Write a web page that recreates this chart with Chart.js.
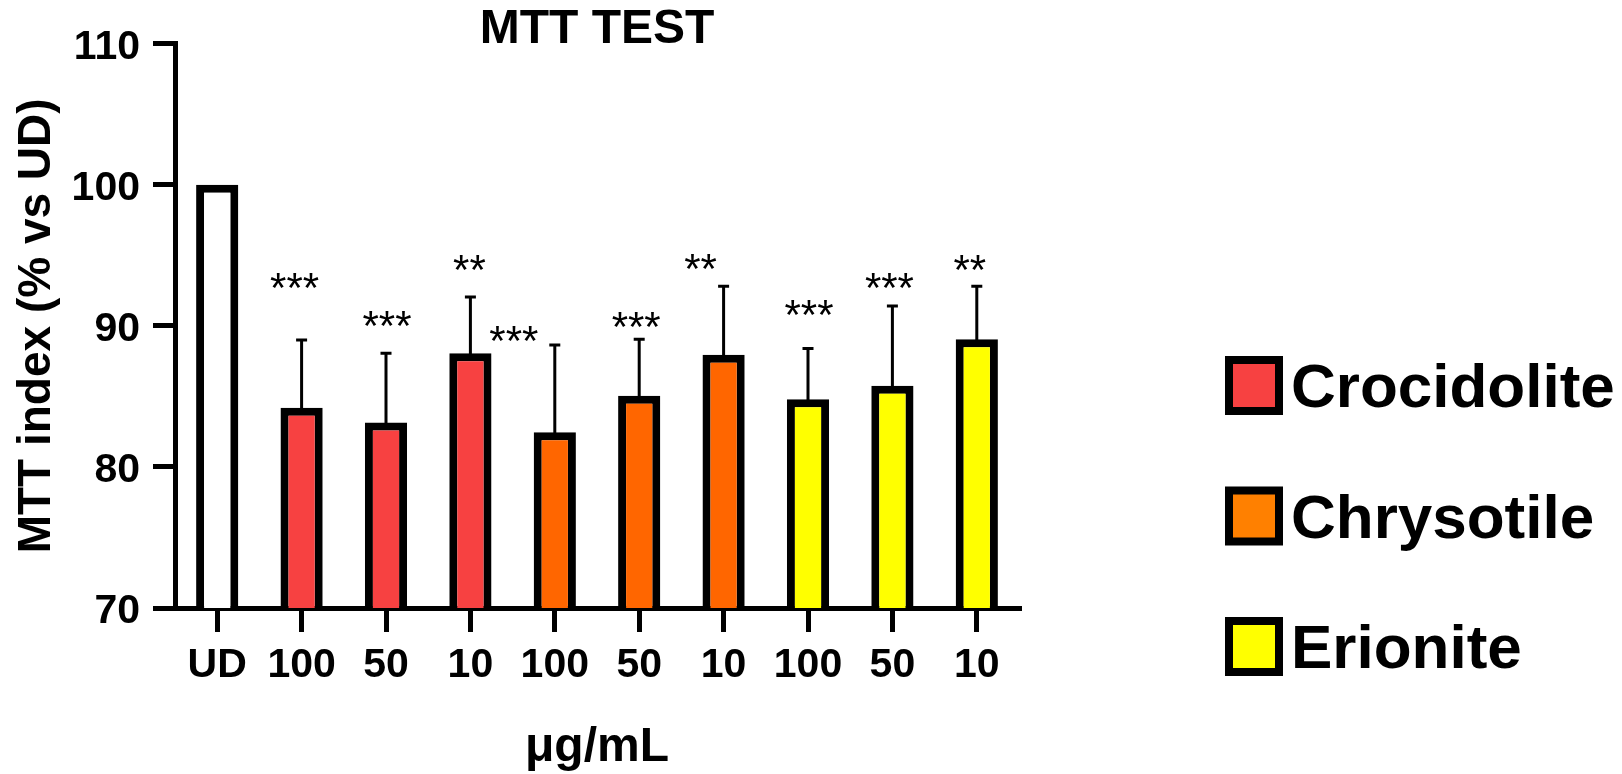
<!DOCTYPE html>
<html>
<head>
<meta charset="utf-8">
<title>MTT TEST</title>
<script src="https://cdn.jsdelivr.net/npm/chart.js@4.4.1/dist/chart.umd.min.js"></script>
<style>
  html, body { margin: 0; padding: 0; background: #fff; }
  #wrap { width: 1622px; height: 774px; }
</style>
</head>
<body>
<div id="wrap"><canvas id="ShowChart"></canvas></div>
<script>
// data
var Dose_Labels = ["UD", "100", "50", "10", "100", "50", "10", "100", "50", "10"]
var Bar_Group = ["UD", "Crocidolite", "Crocidolite", "Crocidolite", "Chrysotile", "Chrysotile", "Chrysotile", "Erionite", "Erionite", "Erionite"]
var MTT_Mean = [100, 84.2, 83.15, 88.05, 82.45, 85.05, 87.95, 84.8, 85.75, 89.05]
var MTT_SD = [null, 4.8, 4.9, 4.0, 6.2, 4.0, 4.85, 3.6, 5.65, 3.75]
var Sig_Stars = ["", "***", "***", "**", "***", "***", "**", "***", "***", "**"]
var Sig_Level = [null, 93.4, 90.7, 94.7, 89.6, 90.65, 94.75, 91.45, 93.4, 94.65]
var Fiber_Names = ["Crocidolite", "Chrysotile", "Erionite"]
var Y_Ticks = [70, 80, 90, 100, 110]

var Bar_Colors = {
  "UD": "#FFFFFF",
  "Crocidolite": "#F74141",
  "Chrysotile": "#FF6600",
  "Erionite": "#FFFF00"
}
var Legend_Colors = {
  "Crocidolite": "#F74141",
  "Chrysotile": "#FF8000",
  "Erionite": "#FFFF00"
}

var FONT = "'Liberation Sans', Arial, Helvetica, sans-serif"
Chart.defaults.font.family = FONT
Chart.defaults.color = "#000"

// error bars (upper only) and the significance stars
var ErrorBars = {
  id: "errorBars",
  afterDatasetsDraw: function(chart, args, opts){
    var ctx = chart.ctx, y = chart.scales.y
    var bars = chart.getDatasetMeta(0).data
    ctx.save()
    ctx.strokeStyle = "#000"
    ctx.lineWidth = opts.lineWidth
    ctx.lineCap = "butt"
    for (var i = 0; i < bars.length; i++){
      if (MTT_SD[i] == null) continue
      var x = bars[i].x
      var top = y.getPixelForValue(MTT_Mean[i] + MTT_SD[i])
      ctx.beginPath()
      ctx.moveTo(x, bars[i].y + 4)
      ctx.lineTo(x, top)
      ctx.moveTo(x - opts.capWidth / 2, top)
      ctx.lineTo(x + opts.capWidth / 2, top)
      ctx.stroke()
    }
    ctx.fillStyle = "#000"
    ctx.font = "normal 42px " + FONT
    ctx.textAlign = "center"
    ctx.textBaseline = "alphabetic"
    for (var i = 0; i < bars.length; i++){
      if (!Sig_Stars[i]) continue
      ctx.fillText(Sig_Stars[i], bars[i].x + opts.starShift[i], y.getPixelForValue(Sig_Level[i]) + opts.starDrop)
    }
    ctx.restore()
  }
}

// legend on the right: big boxed swatches
var FiberLegend = {
  id: "fiberLegend",
  afterDraw: function(chart, args, opts){
    var ctx = chart.ctx
    ctx.save()
    for (var i = 0; i < Fiber_Names.length; i++){
      var top = opts.top + i * opts.step
      var b = opts.border
      ctx.fillStyle = "#000"
      ctx.fillRect(opts.left, top, opts.boxW, opts.boxH)
      ctx.fillStyle = Legend_Colors[Fiber_Names[i]]
      ctx.fillRect(opts.left + b, top + b, opts.boxW - 2 * b, opts.boxH - 2 * b)
      ctx.fillStyle = "#000"
      ctx.font = "bold 62px " + FONT
      ctx.textAlign = "left"
      ctx.textBaseline = "alphabetic"
      ctx.fillText(Fiber_Names[i], opts.textX, top + opts.boxH - 8)
    }
    ctx.restore()
  }
}

var ctx = document.getElementById("ShowChart").getContext("2d")
var ChartObject = new Chart(ctx, {
  type: "bar",
  data: {
    labels: Dose_Labels,
    datasets: [{
      label: "MTT index",
      data: MTT_Mean,
      backgroundColor: Bar_Group.map(function(g){ return Bar_Colors[g] }),
      borderColor: "#000",
      borderWidth: 8,
      borderSkipped: "start",
      categoryPercentage: 1.0,
      barPercentage: 0.5
    }]
  },
  options: {
    responsive: true,
    maintainAspectRatio: false,
    animation: false,
    layout: { padding: { left: 0, right: 603, top: 0, bottom: 0 } },
    plugins: {
      legend: { display: false },
      tooltip: { enabled: false },
      title: {
        display: true,
        text: "MTT TEST",
        fullSize: false,
        color: "#000",
        font: { size: 48, weight: "bold", lineHeight: 0.583 },
        padding: { top: 15.7, bottom: 0 }
      },
      errorBars: {
        lineWidth: 3,
        capWidth: 11,
        starShift: [0, -7, 1, -1, -41, -3, -23, 1, -3, -7],
        starDrop: 24
      },
      fiberLegend: {
        left: 1225, top: 356, step: 130.5,
        boxW: 58, boxH: 59, border: 8,
        textX: 1291
      }
    },
    scales: {
      x: {
        offset: true,
        afterFit: function(scale){ scale.height = 166 },
        grid: {
          offset: false,
          drawOnChartArea: false,
          drawTicks: true,
          tickLength: 24,
          lineWidth: 5,
          color: "#000"
        },
        border: { display: true, color: "#000", width: 5 },
        ticks: {
          autoSkip: false,
          maxRotation: 0,
          padding: 9,
          color: "#000",
          font: { size: 41, weight: "bold" }
        },
        title: {
          display: true,
          text: "μg/mL",
          color: "#000",
          font: { size: 48, weight: "bold", lineHeight: 1.1 },
          padding: { top: 0, bottom: 0 }
        }
      },
      y: {
        min: 70,
        max: 110,
        afterFit: function(scale){ scale.width = 175 },
        afterBuildTicks: function(scale){
          scale.ticks = Y_Ticks.map(function(v){ return { value: v } })
        },
        grid: {
          drawOnChartArea: false,
          drawTicks: true,
          tickLength: 22,
          lineWidth: 5,
          color: "#000"
        },
        border: { display: true, color: "#000", width: 5 },
        ticks: {
          padding: 13,
          labelOffset: 4,
          color: "#000",
          font: { size: 41, weight: "bold" }
        },
        title: {
          display: true,
          text: "MTT index (% vs UD)",
          color: "#000",
          font: { size: 46, weight: "bold", lineHeight: 1.2 },
          padding: { top: 10, bottom: 0 }
        }
      }
    }
  },
  plugins: [ErrorBars, FiberLegend]
})
</script>
</body>
</html>
